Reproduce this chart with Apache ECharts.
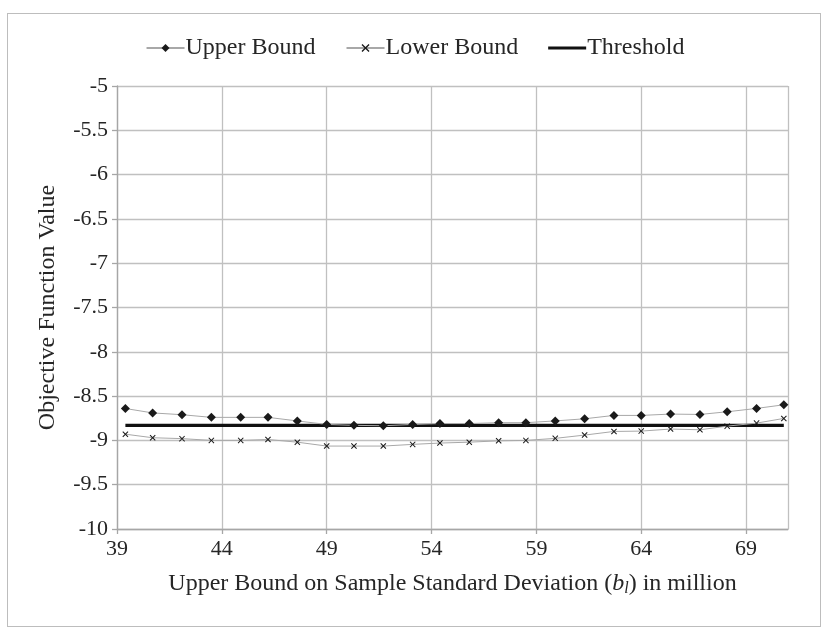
<!DOCTYPE html>
<html>
<head>
<meta charset="utf-8">
<script src="https://cdn.jsdelivr.net/npm/echarts@6/dist/echarts.min.js"></script>
<style>
html,body{margin:0;padding:0;background:#fff;}
#frame{position:absolute;left:7px;top:13px;width:814px;height:614px;border:1.5px solid #bdbdbd;box-sizing:border-box;}
#chart{position:absolute;left:0;top:0;width:830px;height:642px;}
</style>
</head>
<body>
<div id="frame"></div>
<div id="chart"></div>
<script>
const xValues = [39.4, 40.7, 42.1, 43.5, 44.9, 46.2, 47.6, 49.0, 50.3, 51.7, 53.1, 54.4, 55.8, 57.2, 58.5, 59.9, 61.3, 62.7, 64.0, 65.4, 66.8, 68.1, 69.5, 70.8];
const upperBound = [-8.64, -8.69, -8.71, -8.74, -8.74, -8.74, -8.78, -8.82, -8.83, -8.835, -8.82, -8.81, -8.81, -8.80, -8.80, -8.78, -8.756, -8.718, -8.718, -8.703, -8.707, -8.677, -8.639, -8.598];
const lowerBound = [-8.93, -8.97, -8.98, -9.00, -9.00, -8.99, -9.02, -9.064, -9.064, -9.064, -9.045, -9.03, -9.02, -9.005, -9.00, -8.977, -8.94, -8.899, -8.895, -8.872, -8.88, -8.839, -8.805, -8.752];
const thresholdX = [39.4, 70.8];
const thresholdY = [-8.83, -8.83];
const xTicks = [39, 44, 49, 54, 59, 64, 69];
const yTicks = [-10, -9.5, -9, -8.5, -8, -7.5, -7, -6.5, -6, -5.5, -5];

const FONT = 'Liberation Serif';
const TXT = '#262626';
const xMark = 'path://M0,1.2L1.2,0L5,3.8L8.8,0L10,1.2L6.2,5L10,8.8L8.8,10L5,6.2L1.2,10L0,8.8L3.8,5Z';

const pair = (xs, ys) => xs.map((x, i) => [x, ys[i]]);

const chart = echarts.init(document.getElementById('chart'));
chart.setOption({
  animation: false,
  backgroundColor: 'transparent',
  legend: {
    top: 31,
    left: 'center',
    itemGap: 30,
    itemWidth: 38,
    itemHeight: 10,
    textStyle: { fontFamily: FONT, fontSize: 24, color: TXT, padding: [0, 0, 0, -4] },
    data: [
      { name: 'Upper Bound' },
      { name: 'Lower Bound' },
      { name: 'Threshold', icon: 'path://M0,0L40,0L40,3.2L0,3.2Z' }
    ]
  },
  grid: { left: 117, right: 42, top: 86, bottom: 113, containLabel: false },
  xAxis: {
    type: 'value',
    min: 39,
    max: 71,
    interval: 5,
    name: 'Upper Bound on Sample Standard Deviation ({i|b}{s|l}) in million',
    nameLocation: 'middle',
    nameGap: 42,
    nameTextStyle: {
      fontFamily: FONT, fontSize: 24, color: TXT,
      rich: {
        i: { fontFamily: FONT, fontSize: 24, fontStyle: 'italic', color: TXT },
        s: { fontFamily: FONT, fontSize: 16, fontStyle: 'italic', color: TXT, verticalAlign: 'bottom', padding: [10, 0, 0, 0] }
      }
    },
    axisLine: { show: true, lineStyle: { color: '#a6a6a6', width: 1.3 } },
    axisTick: { show: true, length: 5, lineStyle: { color: '#a6a6a6', width: 1.3 } },
    axisLabel: {
      fontFamily: FONT, fontSize: 22, color: TXT, margin: 9, showMaxLabel: false,
      formatter: v => (xTicks.indexOf(v) >= 0 ? String(v) : '')
    },
    splitLine: { show: true, lineStyle: { color: '#c0c0c0', width: 1.3 } }
  },
  yAxis: {
    type: 'value',
    min: -10,
    max: -5,
    interval: 0.5,
    name: 'Objective Function Value',
    nameLocation: 'middle',
    nameGap: 57,
    nameTextStyle: { fontFamily: FONT, fontSize: 24, color: TXT },
    axisLine: { show: true, lineStyle: { color: '#a6a6a6', width: 1.3 } },
    axisTick: { show: true, length: 5, lineStyle: { color: '#a6a6a6', width: 1.3 } },
    axisLabel: {
      fontFamily: FONT, fontSize: 22, color: TXT, margin: 9,
      formatter: v => (yTicks.indexOf(v) >= 0 ? String(v) : '')
    },
    splitLine: { show: true, lineStyle: { color: '#c0c0c0', width: 1.3 } }
  },
  series: [
    {
      name: 'Upper Bound',
      type: 'line',
      data: pair(xValues, upperBound),
      symbol: 'diamond',
      symbolSize: 9,
      showAllSymbol: true,
      lineStyle: { color: '#a8a8a8', width: 1 },
      itemStyle: { color: '#1a1a1a' },
      z: 3
    },
    {
      name: 'Lower Bound',
      type: 'line',
      data: pair(xValues, lowerBound),
      symbol: xMark,
      symbolSize: 6,
      showAllSymbol: true,
      lineStyle: { color: '#a8a8a8', width: 1 },
      itemStyle: { color: '#1a1a1a' },
      z: 3
    },
    {
      name: 'Threshold',
      type: 'line',
      data: pair(thresholdX, thresholdY),
      symbol: 'none',
      lineStyle: { color: '#111111', width: 3.4 },
      itemStyle: { color: '#111111' },
      z: 2
    }
  ]
});
</script>
</body>
</html>
